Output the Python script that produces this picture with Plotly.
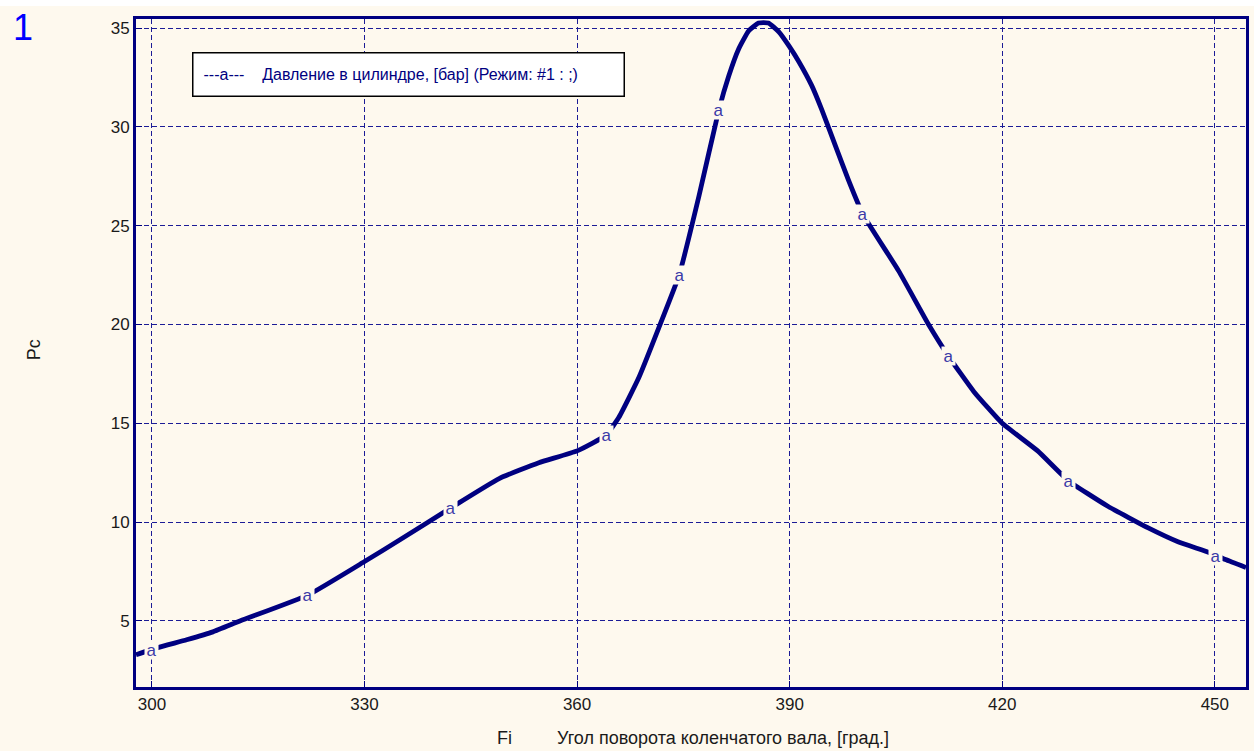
import plotly.graph_objects as go

# Cylinder pressure vs crank angle
fi = [297.75, 300.7, 304.9, 308.6, 312.5, 322.0, 330.0, 335.0, 342.1, 349.0,
      354.6, 360.0, 364.1, 365.9, 368.7, 371.5, 374.4, 377.2, 380.0, 381.4,
      382.8, 384.2, 385.6, 387.0, 388.5, 389.9, 391.3, 393.1, 394.5, 396.5,
      398.3, 400.3, 405.4, 409.6, 412.4, 416.0, 420.0, 425.0, 429.3, 434.9,
      440.6, 444.8, 449.3, 451.5, 454.4]
pc = [3.28, 3.63, 4.04, 4.44, 5.0, 6.3, 8.0, 9.1, 10.7, 12.2,
      13.0, 13.6, 14.4, 15.3, 17.3, 19.8, 22.5, 26.5, 30.85, 32.57,
      33.94, 34.85, 35.26, 35.26, 34.8, 34.1, 33.3, 32.1, 30.9, 29.0,
      27.3, 25.6, 22.7, 20.0, 18.4, 16.6, 15.0, 13.6, 12.1, 10.8,
      9.7, 9.0, 8.45, 8.1, 7.7]

# Points on the curve that carry the "a" series marker
mark_fi = [300.0, 322.0, 342.1, 364.1, 374.4, 380.0, 400.3, 412.4, 429.3, 450.1]
mark_pc = [3.5, 6.3, 10.7, 14.4, 22.5, 30.85, 25.6, 18.4, 12.1, 8.3]

x_ticks = [300, 330, 360, 390, 420, 450]
y_ticks = [5, 10, 15, 20, 25, 30, 35]

NAVY = "#000080"
GRID = "#1c1c96"
BG = "#FEF9EE"
TEXT = "#1a1a1a"
SANS = "Liberation Sans, Arial"
TICK_FONT = dict(family=SANS, size=17, color=TEXT)

fig = go.Figure()
fig.add_trace(go.Scatter(
    x=fi, y=pc, mode="lines",
    line=dict(color=NAVY, width=4.8, shape="spline", smoothing=0.4),
    hoverinfo="skip", showlegend=False,
))

for mx, my in zip(mark_fi, mark_pc):
    fig.add_annotation(
        x=mx, y=my, text="a", showarrow=False, xref="x", yref="y",
        font=dict(family=SANS, size=17, color="#3a3aa8"),
        bgcolor=BG, borderpad=0, width=13, height=18,
    )

grid = dict(showgrid=True, gridcolor=GRID, griddash="5px,3px", gridwidth=1)
fig.update_xaxes(
    range=[297.75, 454.4], tickvals=x_ticks, ticks="inside", ticklen=6, tickcolor=NAVY,
    showline=True, linecolor=NAVY, linewidth=3, mirror=True, zeroline=False,
    tickfont=TICK_FONT, **grid,
)
fig.update_yaxes(
    range=[1.65, 35.46], tickvals=y_ticks, ticks="inside", ticklen=6, tickcolor=NAVY,
    showline=True, linecolor=NAVY, linewidth=3, mirror=True, zeroline=False,
    tickfont=TICK_FONT, **grid,
)

fig.update_layout(
    width=1254, height=751, autosize=False,
    margin=dict(l=136, r=5, t=19, b=64),
    paper_bgcolor=BG, plot_bgcolor=BG,
    showlegend=False,
)

# White strip along the top edge of the page
fig.add_shape(type="rect", xref="paper", yref="paper", x0=-0.2, x1=1.1,
              y0=1 + 13 / 668, y1=1.05, fillcolor="white", line_width=0, layer="below")

# Legend box
fig.add_annotation(
    xref="paper", yref="paper", x=(192 - 136) / 1113, y=1 - (52 - 19) / 668,
    xanchor="left", yanchor="top", showarrow=False, align="left",
    text="---a---    Давление в цилиндре, [бар] (Режим: #1 : ;)",
    font=dict(family=SANS, size=16, color=NAVY),
    bgcolor="white", bordercolor="black", borderwidth=1.5, borderpad=10,
    width=410, height=22,
)

# Page number
fig.add_annotation(xref="paper", yref="paper", x=-125 / 1113, y=1 - (28 - 19) / 668,
                   text="1", showarrow=False, xanchor="left", yanchor="middle",
                   font=dict(family=SANS, size=36, color="#0000ff"))

# Axis titles
fig.add_annotation(xref="paper", yref="paper", x=-114 / 1113, y=1 - (350 - 19) / 668,
                   text="Pc", showarrow=False, textangle=-90,
                   font=dict(family=SANS, size=18, color=TEXT))
fig.add_annotation(xref="paper", yref="paper", x=(496 - 136) / 1113, y=-(738 - 687) / 668,
                   text="Fi", showarrow=False, xanchor="left", yanchor="middle",
                   font=dict(family=SANS, size=18, color=TEXT))
fig.add_annotation(xref="paper", yref="paper", x=(556 - 136) / 1113, y=-(738 - 687) / 668,
                   text="Угол поворота коленчатого вала, [град.]", showarrow=False,
                   xanchor="left", yanchor="middle",
                   font=dict(family=SANS, size=18, color=TEXT))

fig.write_html("out.html")
